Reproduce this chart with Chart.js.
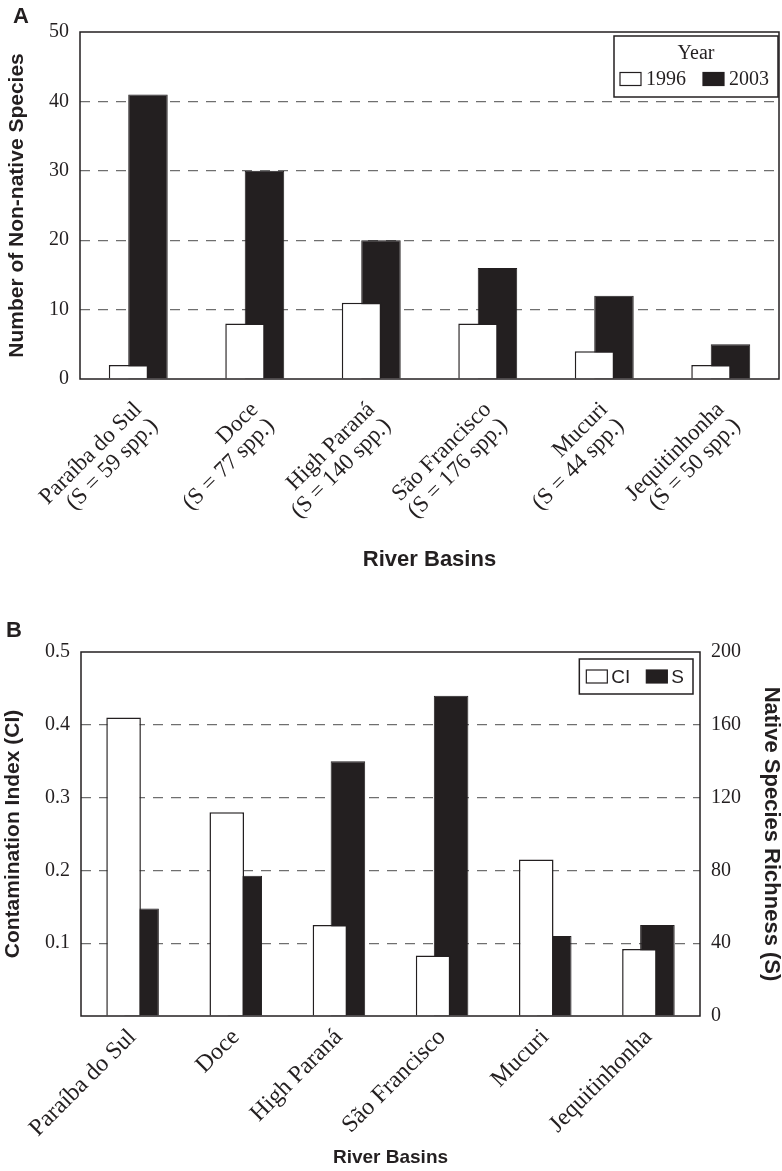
<!DOCTYPE html>
<html>
<head>
<meta charset="utf-8">
<script src="https://cdn.jsdelivr.net/npm/chart.js@4.4.1/dist/chart.umd.min.js"></script>
<style>
  html, body { margin: 0; padding: 0; background: #fff; }
  #page { position: relative; width: 782px; height: 1171px; overflow: hidden; }
  .panel { position: absolute; left: 0; width: 782px; }
  #wrapA { top: 0; height: 590px; }
  #wrapB { top: 590px; height: 581px; }
  .tag { position: absolute; font: bold 22px "Liberation Sans", Arial, sans-serif; color: #231f20; line-height: 25px; }
</style>
</head>
<body>
<div id="page">
  <div class="panel" id="wrapA"><canvas id="chartA" width="782" height="590"></canvas></div>
  <div class="panel" id="wrapB"><canvas id="chartB" width="782" height="581"></canvas></div>
  <div class="tag" style="left:13px; top:3px;">A</div>
  <div class="tag" style="left:6px; top:617px;">B</div>
</div>
<script>
// River basins (x categories)
const basins = ['Paraíba do Sul', 'Doce', 'High Paraná', 'São Francisco', 'Mucuri', 'Jequitinhonha'];
const speciesNotes = ['(S = 59 spp.)', '(S = 77 spp.)', '(S = 140 spp.)', '(S = 176 spp.)', '(S = 44 spp.)', '(S = 50 spp.)'];

// Panel A: number of non-native species
const years = ['1996', '2003'];
const nonNative1996 = [2, 8, 11, 8, 4, 2];
const nonNative2003 = [41, 30, 20, 16, 12, 5];

// Panel B: contamination index and native species richness
const contaminationIndex = [0.41, 0.28, 0.125, 0.083, 0.215, 0.092];
const nativeRichness = [59, 77, 140, 176, 44, 50];

const ink = '#231f20';
const barBlack = '#231f20';
const serif = '"Liberation Serif", "Times New Roman", serif';
const sans = '"Liberation Sans", Arial, sans-serif';

// hide the grid line at both ends, the frame draws those
function gridColor(ctx, lo, hi) {
    const v = ctx.tick ? ctx.tick.value : null;
    if (v === null || Math.abs(v - lo) < 1e-9 || Math.abs(v - hi) < 1e-9) return 'rgba(0,0,0,0)';
    return '#6f6f6f';
}

// box round the plot area
const frame = {
    id: 'frame',
    afterDatasetsDraw(chart) {
        const { ctx, chartArea: a } = chart;
        ctx.save();
        ctx.lineWidth = 1.5;
        ctx.strokeStyle = ink;
        ctx.strokeRect(a.left, a.top, a.right - a.left, a.bottom - a.top);
        ctx.restore();
    }
};

// framed legend in the top right corner
const boxLegend = {
    id: 'boxLegend',
    afterDraw(chart, args, opts) {
        const { ctx, chartArea } = chart;
        const items = chart.data.datasets;
        const sw = 21, sh = 13, gap = opts.textGap;
        ctx.save();
        ctx.font = opts.font;
        let rowW = 0;
        items.forEach((d, i) => {
            rowW += sw + gap + ctx.measureText(d.label).width + (i ? opts.itemGap : 0);
        });
        const w = rowW + opts.padL + opts.padR;
        const h = opts.height;
        const x0 = chartArea.right - opts.right - w;
        const y0 = chartArea.top + opts.top;
        ctx.fillStyle = '#fff';
        ctx.fillRect(x0, y0, w, h);
        ctx.lineWidth = 1.5;
        ctx.strokeStyle = ink;
        ctx.strokeRect(x0, y0, w, h);
        ctx.fillStyle = ink;
        ctx.textBaseline = 'middle';
        let rowY = y0 + h / 2;
        if (opts.title) {
            ctx.textAlign = 'center';
            ctx.fillText(opts.title, x0 + w / 2, y0 + opts.titleY);
            rowY = y0 + opts.rowY;
        }
        ctx.textAlign = 'left';
        let x = x0 + opts.padL;
        items.forEach((d, i) => {
            if (i) x += opts.itemGap;
            ctx.fillStyle = d.backgroundColor;
            ctx.fillRect(x, rowY - sh / 2, sw, sh);
            ctx.lineWidth = 1.2;
            ctx.strokeStyle = ink;
            ctx.strokeRect(x, rowY - sh / 2, sw, sh);
            x += sw + gap;
            ctx.fillStyle = ink;
            ctx.fillText(d.label, x, rowY + 1);
            x += ctx.measureText(d.label).width;
        });
        ctx.restore();
    }
};

// Panel A
new Chart(document.getElementById('chartA'), {
    type: 'bar',
    data: {
        labels: basins.map((b, i) => [b, speciesNotes[i]]),
        datasets: [
            { label: years[0], data: nonNative1996, backgroundColor: '#ffffff', borderColor: ink, borderWidth: 1.5 },
            { label: years[1], data: nonNative2003, backgroundColor: barBlack, borderColor: barBlack, borderWidth: 1 }
        ]
    },
    options: {
        responsive: false,
        animation: false,
        layout: { padding: { top: 32, right: 3, left: 0, bottom: 0 } },
        datasets: { bar: { categoryPercentage: 0.334, barPercentage: 2.03 } },
        plugins: {
            legend: { display: false },
            tooltip: { enabled: false },
            boxLegend: {
                title: 'Year', font: '20px ' + serif, padL: 6, padR: 9, textGap: 5, itemGap: 17,
                height: 61, right: 1, top: 4, titleY: 18, rowY: 43
            }
        },
        scales: {
            x: {
                grid: { display: false },
                border: { display: false },
                ticks: {
                    font: { family: serif, size: 23, lineHeight: 1.0 }, color: ink,
                    minRotation: 45, maxRotation: 45, autoSkip: false, padding: 11
                },
                title: {
                    display: true, text: 'River Basins', color: ink,
                    font: { family: sans, size: 22, weight: 'bold' }, padding: { top: 0, bottom: 17 }
                },
                afterFit: s => { s.height = 211; }
            },
            y: {
                min: 0, max: 50,
                ticks: { stepSize: 10, font: { family: serif, size: 20 }, color: ink, padding: 11 },
                grid: { drawTicks: false, lineWidth: 1.2, color: c => gridColor(c, 0, 50) },
                border: { display: false, dash: [10, 8] },
                title: {
                    display: true, text: 'Number of Non-native Species', color: ink,
                    font: { family: sans, size: 21, weight: 'bold', lineHeight: 1.0 }, padding: { top: 7, bottom: 0 }
                },
                afterFit: s => { s.width = 80; }
            }
        }
    },
    plugins: [frame, boxLegend]
});

// Panel B
new Chart(document.getElementById('chartB'), {
    type: 'bar',
    data: {
        labels: basins,
        datasets: [
            { label: 'CI', data: contaminationIndex, yAxisID: 'y', backgroundColor: '#ffffff', borderColor: ink, borderWidth: 1.5 },
            { label: 'S', data: nativeRichness, yAxisID: 'y1', backgroundColor: barBlack, borderColor: barBlack, borderWidth: 1 }
        ]
    },
    options: {
        responsive: false,
        animation: false,
        layout: { padding: { top: 62, right: 0, left: 0, bottom: 0 } },
        datasets: { bar: { categoryPercentage: 0.349, barPercentage: 1.92 } },
        plugins: {
            legend: { display: false },
            tooltip: { enabled: false },
            boxLegend: {
                font: '19px ' + sans, padL: 7, padR: 9, textGap: 4, itemGap: 16,
                height: 35, right: 7, top: 7
            }
        },
        scales: {
            x: {
                grid: { display: false },
                border: { display: false },
                ticks: {
                    font: { family: serif, size: 24, lineHeight: 1.0 }, color: ink,
                    minRotation: 45, maxRotation: 45, autoSkip: false, padding: 1
                },
                title: {
                    display: true, text: 'River Basins', color: ink,
                    font: { family: sans, size: 19, weight: 'bold' }, padding: { top: 0, bottom: 2 }
                },
                afterFit: s => { s.height = 155; }
            },
            y: {
                min: 0, max: 0.5,
                ticks: {
                    stepSize: 0.1, font: { family: serif, size: 20 }, color: ink, padding: 11,
                    callback: v => (v === 0 ? '' : v.toFixed(1))
                },
                grid: { drawTicks: false, lineWidth: 1.2, color: c => gridColor(c, 0, 0.5) },
                border: { display: false, dash: [10, 8] },
                title: {
                    display: true, text: 'Contamination Index (CI)', color: ink,
                    font: { family: sans, size: 21, weight: 'bold', lineHeight: 1.0 }, padding: { top: 3, bottom: 0 }
                },
                afterFit: s => { s.width = 81; }
            },
            y1: {
                position: 'right',
                min: 0, max: 200,
                ticks: { stepSize: 40, font: { family: serif, size: 20 }, color: ink, padding: 11 },
                grid: { drawOnChartArea: false, drawTicks: false },
                border: { display: false },
                title: {
                    display: true, text: 'Native Species Richness (S)', color: ink,
                    font: { family: sans, size: 22, weight: 'bold', lineHeight: 1.0 }, padding: { top: 0, bottom: 0 }
                },
                afterFit: s => { s.width = 82; }
            }
        }
    },
    plugins: [frame, boxLegend]
});
</script>
</body>
</html>
